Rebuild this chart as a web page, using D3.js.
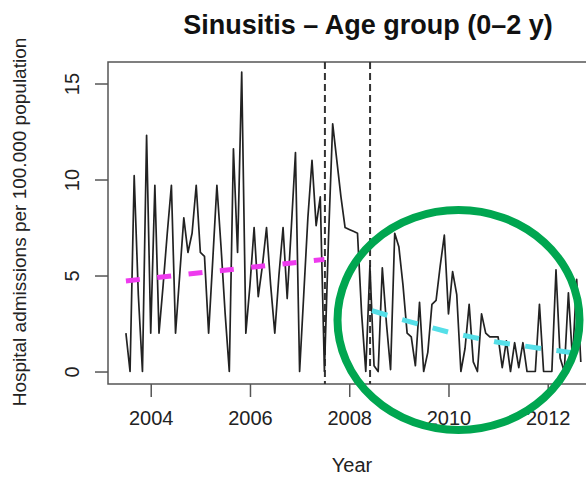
<!DOCTYPE html>
<html>
<head>
<meta charset="utf-8">
<script src="https://cdn.jsdelivr.net/npm/d3@7"></script>
<style>
  body { margin: 0; background: #fff; }
  svg { display: block; font-family: "Liberation Sans", Arial, sans-serif; }
</style>
</head>
<body>
<svg id="chart"></svg>
<script>
// monthly admissions per 100.000, starting July 2003
const startYear = 2003.5;
const admissions = [
  2.0, 0, 10.2, 4.0, 0, 12.3, 2.0, 9.7, 2.0, 4.5, 7.2, 9.7,
  2.0, 5.0, 8.0, 6.2, 7.2, 9.7, 6.2, 6.0, 2.0, 5.8, 9.7, 6.5,
  3.0, 0, 11.6, 6.2, 15.6, 2.0, 4.5, 7.5, 3.9, 5.5, 7.5, 4.5,
  2.0, 5.0, 7.5, 3.8, 7.5, 11.4, 0, 4.0, 8.0, 11.0, 7.6, 9.1,
  0, 7.0, 12.9, 11.0, 9.1, 7.5, 7.4, 7.3, 7.2, 3.0, 0, 5.5,
  0.3, 0, 5.4, 2.5, 0.1, 7.2, 6.5, 4.5, 2.0, 1.8, 0.3, 3.6,
  0, 1.0, 3.5, 3.7, 5.5, 7.1, 3.0, 5.2, 4.0, 0, 1.2, 3.5,
  0.5, 0, 3.0, 2.0, 1.8, 1.8, 1.8, 0.2, 1.6, 0, 1.5, 0.2,
  1.5, 0, 0, 0, 3.5, 0, 0, 0, 5.3, 0.7, 0, 4.1,
  0.6, 4.8, 0.5
];

// fitted trends before / after the intervention
const preTrendYears = [2003.5, 2007.5];
const preTrendValues = [4.72, 5.84];
const postTrendYears = [2008.42, 2009, 2009.5, 2010, 2010.5, 2011, 2011.5, 2012, 2012.67];
const postTrendValues = [3.2, 2.75, 2.4, 2.05, 1.78, 1.52, 1.34, 1.15, 0.92];

const breakYears = [2007.51, 2008.42];
const xTicks = [2004, 2006, 2008, 2010, 2012];
const yTicks = [0, 5, 10, 15];

const width = 586, height = 479;
const plot = {left: 108, right: 600, top: 62, bottom: 384};

const svg = d3.select("#chart")
    .attr("width", width)
    .attr("height", height);

const x = d3.scaleLinear()
    .domain([2003.139, 2003.139 + (plot.right - plot.left) / 49.625])
    .range([plot.left, plot.right]);

const y = d3.scaleLinear()
    .domain([-0.65, 16.12])
    .range([plot.bottom, plot.top]);

const series = admissions.map((v, i) => ({t: startYear + i / 12, v: v}));

// title
svg.append("text")
    .attr("x", 368)
    .attr("y", 34)
    .attr("text-anchor", "middle")
    .attr("font-size", 27)
    .attr("font-weight", "bold")
    .attr("fill", "#111")
    .text("Sinusitis \u2013 Age group (0\u20132 y)");

// axes
const xAxis = svg.append("g")
    .attr("transform", `translate(0,${plot.bottom})`)
    .call(d3.axisBottom(x).tickValues(xTicks).tickFormat(d3.format("d")).tickSize(13).tickPadding(14));
xAxis.select(".domain").remove();
xAxis.selectAll("line").attr("stroke", "#555").attr("stroke-width", 1.5);
xAxis.selectAll("text")
    .attr("font-size", 20)
    .attr("fill", "#222");

const yAxis = svg.append("g")
    .attr("transform", `translate(${plot.left},0)`)
    .call(d3.axisLeft(y).tickValues(yTicks).tickSize(13));
yAxis.select(".domain").remove();
yAxis.selectAll("line").attr("stroke", "#555").attr("stroke-width", 1.5);
yAxis.selectAll("text")
    .attr("font-size", 20)
    .attr("fill", "#222")
    .attr("text-anchor", "middle")
    .attr("dy", null)
    .attr("x", null)
    .attr("transform", "translate(-29,0) rotate(-90)")
    .attr("y", 0);

// box
svg.append("rect")
    .attr("x", plot.left)
    .attr("y", plot.top)
    .attr("width", plot.right - plot.left)
    .attr("height", plot.bottom - plot.top)
    .attr("fill", "none")
    .attr("stroke", "#555")
    .attr("stroke-width", 1.5);

// axis titles
svg.append("text")
    .attr("x", 352)
    .attr("y", 472)
    .attr("text-anchor", "middle")
    .attr("font-size", 20)
    .attr("fill", "#222")
    .text("Year");

svg.append("text")
    .attr("transform", "translate(26,222) rotate(-90)")
    .attr("text-anchor", "middle")
    .attr("font-size", 19)
    .attr("fill", "#222")
    .text("Hospital admissions per 100.000 population");

// intervention lines
svg.append("g")
    .selectAll("line")
    .data(breakYears)
    .join("line")
    .attr("x1", d => x(d))
    .attr("x2", d => x(d))
    .attr("y1", plot.top)
    .attr("y2", plot.bottom)
    .attr("stroke", "#333")
    .attr("stroke-width", 2)
    .attr("stroke-dasharray", "7,4");

// observed series
const line = d3.line()
    .x(d => x(d.t))
    .y(d => y(d.v));

svg.append("path")
    .datum(series)
    .attr("fill", "none")
    .attr("stroke", "#222")
    .attr("stroke-width", 1.7)
    .attr("stroke-linejoin", "round")
    .attr("d", line);

// trend lines
const trendLine = d3.line()
    .x(d => x(d[0]))
    .y(d => y(d[1]));

svg.append("path")
    .datum(d3.zip(preTrendYears, preTrendValues))
    .attr("fill", "none")
    .attr("stroke", "#ee3bee")
    .attr("stroke-width", 5)
    .attr("stroke-dasharray", "14,17.5")
    .attr("d", trendLine);

svg.append("path")
    .datum(d3.zip(postTrendYears, postTrendValues))
    .attr("fill", "none")
    .attr("stroke", "#55dfe8")
    .attr("stroke-width", 5)
    .attr("stroke-dasharray", "16,15.5")
    .attr("stroke-dashoffset", -2)
    .attr("d", trendLine);

// highlight ring
svg.append("ellipse")
    .attr("cx", 458.5)
    .attr("cy", 320)
    .attr("rx", 121)
    .attr("ry", 110)
    .attr("fill", "none")
    .attr("stroke", "#00a650")
    .attr("stroke-width", 8);
</script>
</body>
</html>
